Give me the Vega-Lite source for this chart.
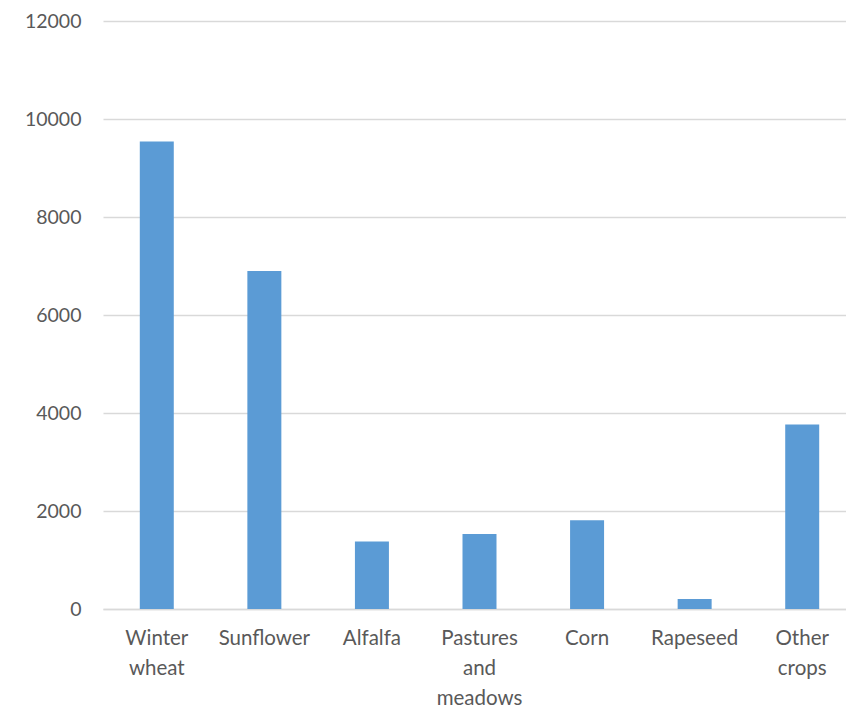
{
  "$schema": "https://vega.github.io/schema/vega-lite/v6.json",
  "autosize": {"type": "none"},
  "width": 753,
  "height": 588,
  "padding": {"left": 103, "top": 21, "right": 0, "bottom": 98},
  "background": "white",
  "data": {
    "values": [
      {"crop": "Winter wheat", "value": 9540},
      {"crop": "Sunflower", "value": 6900},
      {"crop": "Alfalfa", "value": 1380},
      {"crop": "Pastures and meadows", "value": 1530},
      {"crop": "Corn", "value": 1810},
      {"crop": "Rapeseed", "value": 205},
      {"crop": "Other crops", "value": 3765}
    ]
  },
  "config": {
    "view": {"stroke": null},
    "font": "Lato"
  },
  "mark": {"type": "bar", "color": "#5B9BD5"},
  "encoding": {
    "x": {
      "field": "crop",
      "type": "nominal",
      "sort": null,
      "scale": {"paddingInner": 0.684, "paddingOuter": 0.342},
      "axis": {
        "title": null,
        "labelAngle": 0,
        "labelExpr": "split(datum.label, ' ')",
        "labelFontSize": 20.5,
        "labelColor": "#595959",
        "labelLineHeight": 30,
        "labelPadding": 19,
        "labelBaseline": "top",
        "ticks": false,
        "domainColor": "#D9D9D9",
        "domainWidth": 1.5
      }
    },
    "y": {
      "field": "value",
      "type": "quantitative",
      "scale": {"domain": [0, 12000], "nice": false},
      "axis": {
        "title": null,
        "format": "d",
        "values": [0, 2000, 4000, 6000, 8000, 10000, 12000],
        "labelFontSize": 19.5,
        "labelColor": "#595959",
        "labelPadding": 22,
        "ticks": false,
        "domain": false,
        "gridColor": "#D9D9D9",
        "gridWidth": 1.5
      }
    }
  }
}
